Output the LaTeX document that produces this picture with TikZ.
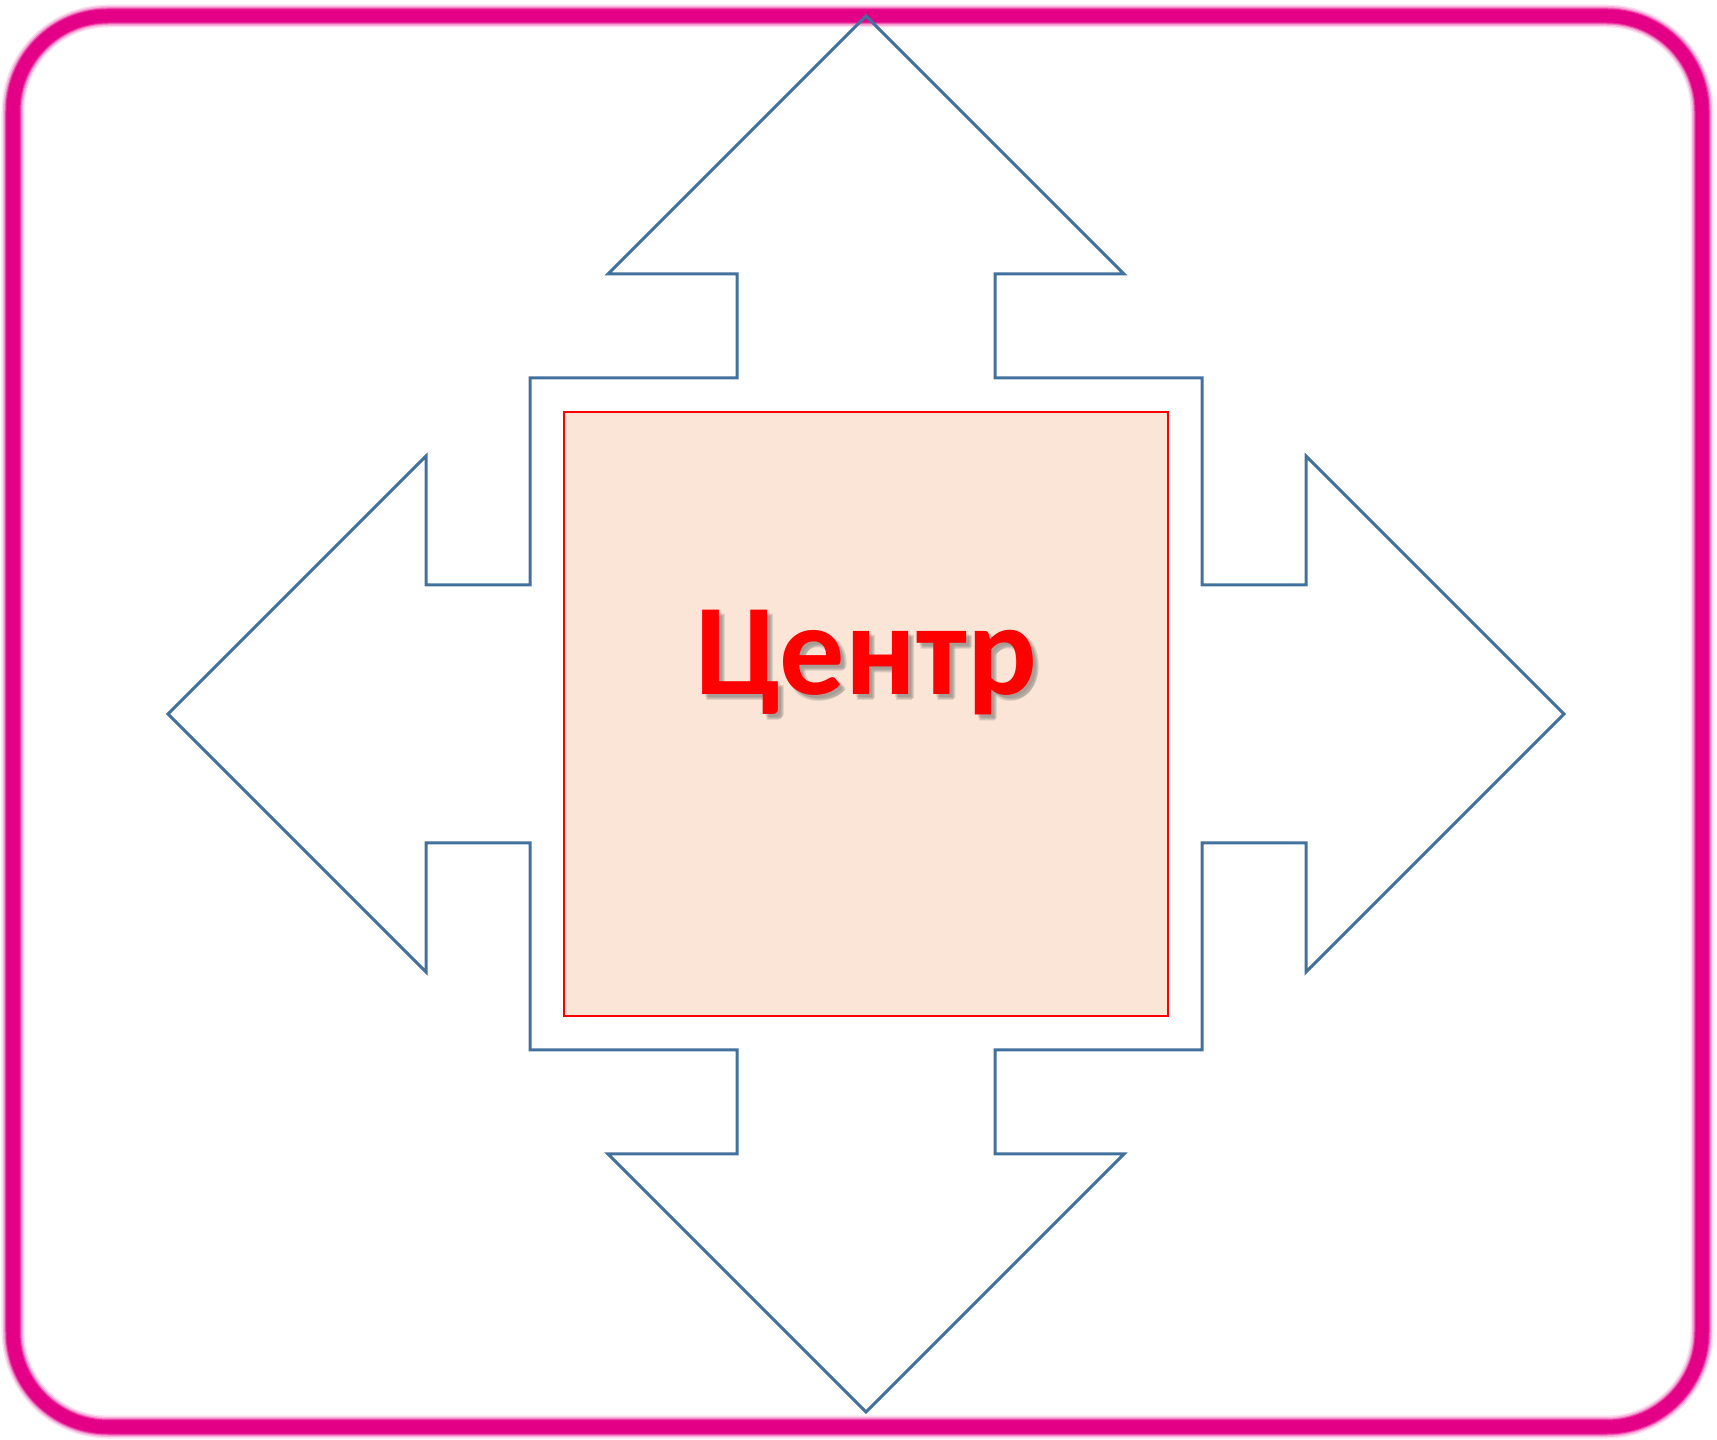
\documentclass[tikz,border=0pt]{standalone}
\usepackage{fontspec}
\setmainfont{Carlito}
\usetikzlibrary{positioning}

\definecolor{framepink}{RGB}{228,0,134}
\definecolor{arrowblue}{RGB}{65,113,156}
\definecolor{centrefill}{RGB}{251,229,214}

\begin{document}
\begin{tikzpicture}[x=0.01cm,y=-0.01cm,
    frame/.style={draw=framepink,line width=0.13cm,rounded corners=0.95cm},
    outline/.style={draw=arrowblue,line width=0.03cm,line join=miter},
    centrebox/.style={draw=red,fill=centrefill,line width=0.02cm,
        minimum size=6.04cm,inner sep=0pt},
    label/.style={font=\bfseries\fontsize{37}{40}\selectfont,inner sep=0pt}]
    \useasboundingbox (0,0) rectangle (1717,1440);
    % outer frame, soft edge
    \foreach \w/\o in {0.23/0.12,0.20/0.2,0.17/0.35,0.15/0.6}
        \draw[frame,line width=\w cm,draw opacity=\o] (13,16) rectangle (1702,1427);
    \draw[frame] (13,16) rectangle (1702,1427);
    % four-way arrow
    \begin{scope}[shift={(866,714)}]
        \draw[outline] (0,-698) -- (258,-440) -- (129,-440) -- (129,-336)
            -- (336,-336) -- (336,-129) -- (440,-129) -- (440,-258)
            -- (698,0) -- (440,258) -- (440,129) -- (336,129)
            -- (336,336) -- (129,336) -- (129,440) -- (258,440)
            -- (0,698) -- (-258,440) -- (-129,440) -- (-129,336)
            -- (-336,336) -- (-336,129) -- (-440,129) -- (-440,258)
            -- (-698,0) -- (-440,-258) -- (-440,-129) -- (-336,-129)
            -- (-336,-336) -- (-129,-336) -- (-129,-440) -- (-258,-440)
            -- cycle;
    \end{scope}
    \node[centrebox] (centre) at (866,714) {};
    % soft shadow behind the title
    \foreach \dx/\dy in {3/3,5/5,4/6,6/4}
        \node[label,text=black!60,opacity=0.18,anchor=base] at (866+\dx,695+\dy) {Центр};
    \node[label,text=red,anchor=base] (title) at (866,695) {Центр};
\end{tikzpicture}
\end{document}
